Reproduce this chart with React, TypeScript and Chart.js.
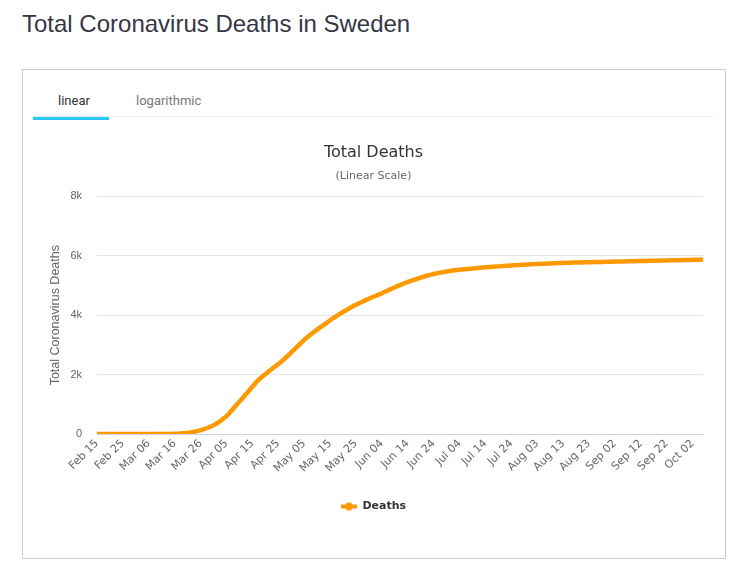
import React, { useEffect, useRef } from "react";
import { Chart, registerables } from "chart.js";

Chart.register(...registerables);

// ---- data (Sweden, total deaths, daily, 2020) ----
const MONTH_NAMES = ["Jan", "Feb", "Mar", "Apr", "May", "Jun", "Jul", "Aug", "Sep", "Oct", "Nov", "Dec"];
const START_YEAR = 2020;
const START_MONTH = 1; // February (0-based)
const START_DAY = 15;
const LABEL_STEP = 10;

const febDeaths = [0, 0, 0, 0, 0, 0, 0, 0, 0, 0, 0, 0, 0, 0, 0];
const marDeaths = [
  0, 0, 0, 0, 0, 0, 0, 0, 0, 0, 1, 1, 2, 3, 5, 8, 12, 17, 24, 32, 42, 54, 68, 85, 105, 128, 155, 185, 218, 255, 295,
];
const aprDeaths = [
  345, 400, 460, 530, 600, 690, 790, 890, 990, 1090, 1190, 1290, 1390, 1490, 1590, 1690, 1790, 1870, 1945, 2015, 2085,
  2155, 2225, 2290, 2355, 2420, 2500, 2580, 2660, 2745,
];
const mayDeaths = [
  2830, 2915, 3000, 3085, 3170, 3245, 3315, 3385, 3450, 3515, 3580, 3640, 3700, 3765, 3830, 3890, 3945, 4000, 4055,
  4110, 4160, 4210, 4260, 4310, 4355, 4395, 4435, 4475, 4515, 4555, 4595,
];
const junDeaths = [
  4630, 4665, 4700, 4740, 4780, 4820, 4860, 4900, 4940, 4978, 5015, 5050, 5085, 5120, 5150, 5180, 5210, 5240, 5268,
  5295, 5320, 5344, 5366, 5387, 5406, 5424, 5441, 5457, 5472, 5486,
];
const julDeaths = [
  5499, 5511, 5522, 5532, 5541, 5550, 5558, 5566, 5574, 5582, 5590, 5597, 5604, 5611, 5618, 5625, 5632, 5638, 5644,
  5650, 5656, 5662, 5668, 5674, 5680, 5686, 5692, 5697, 5702, 5707, 5712,
];
const augDeaths = [
  5716, 5720, 5724, 5728, 5732, 5736, 5740, 5744, 5748, 5752, 5755, 5758, 5761, 5764, 5767, 5770, 5772, 5774, 5776,
  5778, 5780, 5782, 5784, 5786, 5788, 5790, 5792, 5794, 5796, 5798, 5800,
];
const sepDeaths = [
  5802, 5804, 5806, 5808, 5810, 5812, 5814, 5816, 5818, 5820, 5822, 5824, 5826, 5828, 5830, 5832, 5834, 5836, 5838,
  5840, 5842, 5844, 5846, 5848, 5850, 5852, 5854, 5856, 5858, 5860,
];
const octDeaths = [5862, 5864, 5866, 5868, 5870, 5872];

const deaths = [
  ...febDeaths,
  ...marDeaths,
  ...aprDeaths,
  ...mayDeaths,
  ...junDeaths,
  ...julDeaths,
  ...augDeaths,
  ...sepDeaths,
  ...octDeaths,
];

const dateLabels = deaths.map((_, i) => {
  const d = new Date(Date.UTC(START_YEAR, START_MONTH, START_DAY + i));
  return `${MONTH_NAMES[d.getUTCMonth()]} ${String(d.getUTCDate()).padStart(2, "0")}`;
});

const Y_MIN = 0;
const Y_MAX = 8000;
const Y_STEP = 2000;

const PAGE_TITLE = "Total Coronavirus Deaths in Sweden";
const CHART_TITLE = "Total Deaths";
const CHART_SUBTITLE = "(Linear Scale)";
const Y_TITLE = "Total Coronavirus Deaths";
const SERIES_NAME = "Deaths";
const ORANGE = "#FF9900";

function makeLegendIcon(): HTMLCanvasElement {
  const c = document.createElement("canvas");
  c.width = 16;
  c.height = 10;
  const g = c.getContext("2d")!;
  g.strokeStyle = ORANGE;
  g.lineWidth = 4;
  g.beginPath();
  g.moveTo(0, 5);
  g.lineTo(16, 5);
  g.stroke();
  g.fillStyle = ORANGE;
  g.beginPath();
  g.arc(8, 5, 4, 0, Math.PI * 2);
  g.fill();
  return c;
}

function DeathsChart() {
  const ref = useRef<HTMLCanvasElement | null>(null);
  useEffect(() => {
    if (!ref.current) return;
    const icon = makeLegendIcon();
    const chart = new Chart(ref.current, {
      type: "line",
      data: {
        labels: dateLabels,
        datasets: [
          {
            label: SERIES_NAME,
            data: deaths,
            borderColor: ORANGE,
            backgroundColor: ORANGE,
            borderWidth: 4.5,
            pointRadius: 0,
            tension: 0,
            fill: false,
          },
        ],
      },
      options: {
        animation: false,
        responsive: false,
        maintainAspectRatio: false,
        layout: { padding: { left: 21, right: 21, top: 0, bottom: 35 } },
        plugins: {
          title: {
            display: true,
            text: CHART_TITLE,
            color: "#333333",
            font: { family: "DejaVu Sans", size: 16, weight: "normal" },
            padding: { top: 18, bottom: 4 },
          },
          subtitle: {
            display: true,
            text: CHART_SUBTITLE,
            color: "#666666",
            font: { family: "DejaVu Sans", size: 11, weight: "normal" },
            padding: { top: 3, bottom: 14 },
          },
          legend: {
            position: "bottom",
            labels: {
              usePointStyle: true,
              pointStyle: icon as any,
              pointStyleWidth: 16,
              color: "#333333",
              font: { family: "DejaVu Sans", size: 11, weight: "bold" },
              padding: 10,
            },
          },
          tooltip: { enabled: false },
        },
        scales: {
          x: {
            grid: { display: false, drawTicks: false },
            border: { display: true, color: "#ccd6eb", width: 1 },
            ticks: {
              autoSkip: false,
              maxRotation: 45,
              minRotation: 45,
              color: "#666666",
              font: { family: "DejaVu Sans", size: 11 },
              padding: 3,
              callback: (_v: any, i: number) => (i % LABEL_STEP === 0 ? dateLabels[i] : ""),
            },
            afterFit: (s: any) => {
              s.height = 57;
            },
          },
          y: {
            min: Y_MIN,
            max: Y_MAX,
            ticks: {
              stepSize: Y_STEP,
              color: "#666666",
              font: { family: "Liberation Sans", size: 11 },
              padding: 15,
              callback: (v: any) => (Number(v) === 0 ? "0" : `${Number(v) / 1000}k`),
            },
            grid: { color: "#e6e6e6", drawTicks: false },
            border: { display: false },
            title: {
              display: true,
              text: Y_TITLE,
              color: "#666666",
              font: { family: "Liberation Sans", size: 12.5 },
              padding: { top: 4, bottom: 0 },
            },
            afterFit: (s: any) => {
              s.width = 53;
            },
          },
        },
      },
    });
    return () => chart.destroy();
  }, []);
  return (
    <canvas
      ref={ref}
      width={701}
      height={432}
      style={{ position: "absolute", left: 23, top: 125, width: 701, height: 432 }}
    />
  );
}

export default function App() {
  return (
    <div style={{ position: "absolute", left: 0, top: 0, width: 734, height: 567, background: "#fff" }}>
      <div
        style={{
          position: "absolute",
          left: 22,
          top: 10,
          fontFamily: "Liberation Sans, Arial, sans-serif",
          fontSize: 24,
          color: "#363645",
          whiteSpace: "nowrap",
        }}
      >
        {PAGE_TITLE}
      </div>
      <div
        style={{
          position: "absolute",
          left: 22,
          top: 69,
          width: 702,
          height: 488,
          border: "1px solid #cccccc",
          boxSizing: "content-box",
        }}
      />
      <div
        style={{
          position: "absolute",
          left: 33,
          top: 116,
          width: 681,
          height: 1,
          background: "#eeeeee",
        }}
      />
      <div
        style={{
          position: "absolute",
          left: 33,
          top: 117,
          width: 76,
          height: 3,
          background: "#29c8fa",
        }}
      />
      <div
        style={{
          position: "absolute",
          left: 58,
          top: 93,
          fontFamily: "Roboto, sans-serif",
          fontSize: 13,
          color: "#333333",
        }}
      >
        linear
      </div>
      <div
        style={{
          position: "absolute",
          left: 136,
          top: 93,
          fontFamily: "Roboto, sans-serif",
          fontSize: 13,
          color: "#777777",
        }}
      >
        logarithmic
      </div>
      <DeathsChart />
    </div>
  );
}
